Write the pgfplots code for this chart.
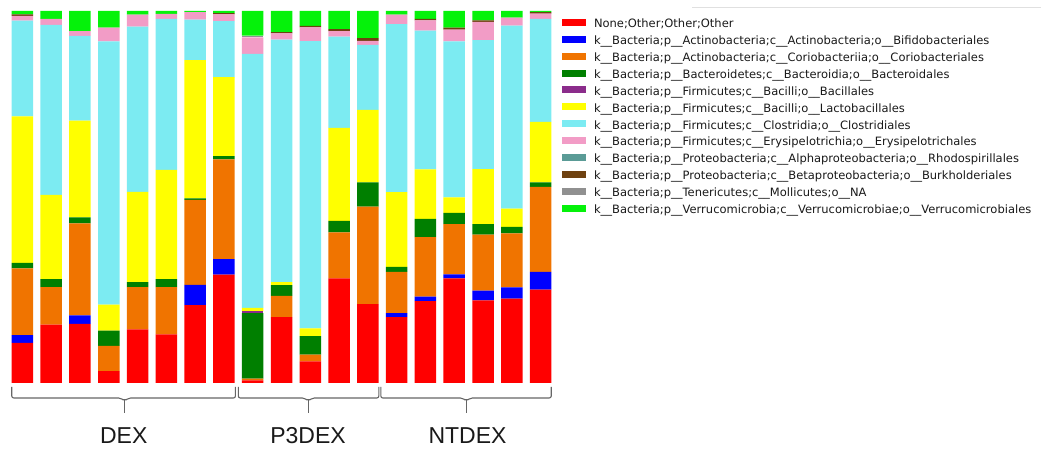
\documentclass[border=0pt]{standalone}
\usepackage{fontspec}
\usepackage{pgfplots}
\usepackage{pgfplotstable}
\pgfplotsset{compat=1.18}
\usetikzlibrary{calc}

\newfontfamily\legfont{DejaVu Sans}
\newfontfamily\grpfont{Liberation Sans}

% taxon colours
\definecolor{cNone}{HTML}{FF0000}
\definecolor{cBifido}{HTML}{0000FF}
\definecolor{cCorio}{HTML}{F07400}
\definecolor{cBacteroid}{HTML}{007F00}
\definecolor{cBacill}{HTML}{8B2C8B}
\definecolor{cLacto}{HTML}{FFFF00}
\definecolor{cClostr}{HTML}{7CEBF2}
\definecolor{cErysip}{HTML}{F29CC6}
\definecolor{cRhodo}{HTML}{5A9B96}
\definecolor{cBurk}{HTML}{6E4110}
\definecolor{cMolli}{HTML}{909090}
\definecolor{cVerruco}{HTML}{05F20A}
\definecolor{braceline}{HTML}{666666}

% relative abundance (%) per sample, samples 0-7 DEX, 8-12 P3DEX, 13-18 NTDEX
\pgfplotstableread{
idx None Bifido Corio Bacteroid Bacill Lacto Clostr Erysip Rhodo Burk Molli Verruco
0  10.8 2.1 17.9 1.5  0   39.4 25.7 1.3 0 0.4  0   0.9
1  15.7 0   10.1 2.1  0   22.7 45.7 1.6 0 0    0   2.1
2  15.9 2.3 24.7 1.6  0   26.0 22.8 1.3 0 0    0   5.4
3  3.2  0   6.8  4.1  0   7.0  70.7 3.7 0 0    0   4.5
4  14.4 0   11.4 1.3  0   24.3 44.4 3.2 0 0    0   1.0
5  13.1 0   12.7 2.1  0   29.4 40.6 1.3 0 0    0   0.8
6  20.9 5.5 22.8 0.4  0   37.2 10.9 2.0 0 0    0   0.3
7  29.1 4.2 26.8 0.9  0   21.2 15.1 1.8 0 0.3  0   0.6
8  0.7  0   0.5  17.6 0.5 0.9  68.3 4.4 0 0    0.5 6.6
9  17.7 0   5.7  2.9  0   0.8  65.2 1.7 0 0.35 0   5.65
10 5.8  0   1.8  5.0  0   2.1  77.2 3.7 0 0.4  0   4.0
11 28.1 0   12.4 3.1  0   25.0 24.5 1.5 0 0.5  0   4.9
12 21.2 0   26.2 6.5  0   19.5 17.5 1.1 0 0.7  0   7.3
13 17.7 1.1 11.1 1.3  0   20.1 45.2 2.5 0 0    0   1.0
14 22.0 1.2 16.0 4.9  0   13.3 37.3 2.8 0 0.35 0   2.15
15 28.1 1.1 13.5 3.0  0   4.2  41.9 3.2 0 0.5  0   4.5
16 22.2 2.6 15.1 2.8  0   14.8 34.7 4.9 0 0.35 0   2.55
17 22.7 3.0 14.5 1.8  0   4.9  49.2 2.1 0 0    0   1.8
18 25.1 4.8 22.8 1.2  0   16.3 27.7 1.4 0 0.4  0   0.3
}\abund

\pgfplotsset{
  swatch/.style={legend image code/.code={\fill[##1,draw=none] (0pt,-1.2pt) rectangle (24pt,5.8pt);}},
}

\begin{document}
\begin{tikzpicture}
\path[use as bounding box] (0pt,0pt) rectangle (1041pt,449pt);
\begin{axis}[
  at={(8pt,66pt)}, anchor=south west,
  scale only axis, width=547pt, height=372pt,
  xmin=-0.5, xmax=18.5, ymin=0, ymax=100,
  hide axis, clip=false,
  ybar stacked, bar width=21.5pt,
  every axis plot/.append style={draw=none},
  legend cell align=left,
  legend style={
    at={(rel axis cs:1.0128,0.9785)}, anchor=north west,
    draw=none, fill=none, inner sep=0pt, outer sep=0pt,
    row sep=5.47pt,
    font=\legfont\fontsize{11.5}{13}\selectfont,
    nodes={inner sep=0pt, text height=8.7pt, text depth=2.5pt, text=black!90},
    /tikz/every odd column/.append style={column sep=8pt},
  },
]
\addplot[fill=cNone, swatch] table[x=idx,y=None]{\abund};
\addlegendentry{None;Other;Other;Other}
\addplot[fill=cBifido, swatch] table[x=idx,y=Bifido]{\abund};
\addlegendentry{k\_\_Bacteria;p\_\_Actinobacteria;c\_\_Actinobacteria;o\_\_Bifidobacteriales}
\addplot[fill=cCorio, swatch] table[x=idx,y=Corio]{\abund};
\addlegendentry{k\_\_Bacteria;p\_\_Actinobacteria;c\_\_Coriobacteriia;o\_\_Coriobacteriales}
\addplot[fill=cBacteroid, swatch] table[x=idx,y=Bacteroid]{\abund};
\addlegendentry{k\_\_Bacteria;p\_\_Bacteroidetes;c\_\_Bacteroidia;o\_\_Bacteroidales}
\addplot[fill=cBacill, swatch] table[x=idx,y=Bacill]{\abund};
\addlegendentry{k\_\_Bacteria;p\_\_Firmicutes;c\_\_Bacilli;o\_\_Bacillales}
\addplot[fill=cLacto, swatch] table[x=idx,y=Lacto]{\abund};
\addlegendentry{k\_\_Bacteria;p\_\_Firmicutes;c\_\_Bacilli;o\_\_Lactobacillales}
\addplot[fill=cClostr, swatch] table[x=idx,y=Clostr]{\abund};
\addlegendentry{k\_\_Bacteria;p\_\_Firmicutes;c\_\_Clostridia;o\_\_Clostridiales}
\addplot[fill=cErysip, swatch] table[x=idx,y=Erysip]{\abund};
\addlegendentry{k\_\_Bacteria;p\_\_Firmicutes;c\_\_Erysipelotrichia;o\_\_Erysipelotrichales}
\addplot[fill=cRhodo, swatch] table[x=idx,y=Rhodo]{\abund};
\addlegendentry{k\_\_Bacteria;p\_\_Proteobacteria;c\_\_Alphaproteobacteria;o\_\_Rhodospirillales}
\addplot[fill=cBurk, swatch] table[x=idx,y=Burk]{\abund};
\addlegendentry{k\_\_Bacteria;p\_\_Proteobacteria;c\_\_Betaproteobacteria;o\_\_Burkholderiales}
\addplot[fill=cMolli, swatch] table[x=idx,y=Molli]{\abund};
\addlegendentry{k\_\_Bacteria;p\_\_Tenericutes;c\_\_Mollicutes;o\_\_NA}
\addplot[fill=cVerruco, swatch] table[x=idx,y=Verruco]{\abund};
\addlegendentry{k\_\_Bacteria;p\_\_Verrucomicrobia;c\_\_Verrucomicrobiae;o\_\_Verrucomicrobiales}

% group braces under the bars
\draw[braceline, line width=1.1pt, rounded corners=2pt]
  ($(axis cs:-0.37,0)+(0pt,-4pt)$) -- ($(axis cs:-0.37,0)+(0pt,-15pt)$)
  -- ($(axis cs:3.55,0)+(-4pt,-15pt)$) -- ($(axis cs:3.55,0)+(0pt,-18pt)$)
  -- ($(axis cs:3.55,0)+(4pt,-15pt)$) -- ($(axis cs:7.40,0)+(0pt,-15pt)$)
  -- ($(axis cs:7.40,0)+(0pt,-4pt)$);
\draw[braceline, line width=1.1pt] ($(axis cs:3.55,0)+(0pt,-17pt)$) -- ($(axis cs:3.55,0)+(0pt,-30pt)$);

\draw[braceline, line width=1.1pt, rounded corners=2pt]
  ($(axis cs:7.50,0)+(0pt,-4pt)$) -- ($(axis cs:7.50,0)+(0pt,-15pt)$)
  -- ($(axis cs:9.93,0)+(-4pt,-15pt)$) -- ($(axis cs:9.93,0)+(0pt,-18pt)$)
  -- ($(axis cs:9.93,0)+(4pt,-15pt)$) -- ($(axis cs:12.38,0)+(0pt,-15pt)$)
  -- ($(axis cs:12.38,0)+(0pt,-4pt)$);
\draw[braceline, line width=1.1pt] ($(axis cs:9.93,0)+(0pt,-17pt)$) -- ($(axis cs:9.93,0)+(0pt,-30pt)$);

\draw[braceline, line width=1.1pt, rounded corners=2pt]
  ($(axis cs:12.45,0)+(0pt,-4pt)$) -- ($(axis cs:12.45,0)+(0pt,-15pt)$)
  -- ($(axis cs:15.42,0)+(-4pt,-15pt)$) -- ($(axis cs:15.42,0)+(0pt,-18pt)$)
  -- ($(axis cs:15.42,0)+(4pt,-15pt)$) -- ($(axis cs:18.37,0)+(0pt,-15pt)$)
  -- ($(axis cs:18.37,0)+(0pt,-4pt)$);
\draw[braceline, line width=1.1pt] ($(axis cs:15.42,0)+(0pt,-17pt)$) -- ($(axis cs:15.42,0)+(0pt,-30pt)$);

% group names
\node[anchor=base, font=\grpfont\fontsize{23}{26}\selectfont, text=black!90]
  at ($(axis cs:3.52,0)+(0pt,-61pt)$) {DEX};
\node[anchor=base, font=\grpfont\fontsize{23}{26}\selectfont, text=black!90]
  at ($(axis cs:9.92,0)+(0pt,-61pt)$) {P3DEX};
\node[anchor=base, font=\grpfont\fontsize{23}{26}\selectfont, text=black!90]
  at ($(axis cs:15.46,0)+(0pt,-61pt)$) {NTDEX};
\end{axis}
\draw[black!12, line width=0.8pt] (692pt,441.3pt) -- (1041pt,441.3pt);
\end{tikzpicture}
\end{document}
